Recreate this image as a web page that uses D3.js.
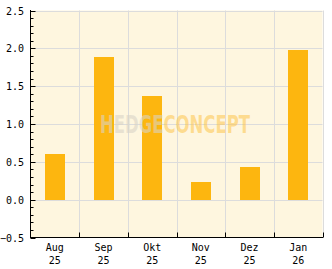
<!DOCTYPE html>
<meta charset="utf-8">
<style>
body { margin: 0; background: #fff; }
text { font-family: "DejaVu Sans Mono", monospace; font-size: 10px; fill: #000; }
.grid line { stroke: #dcdcdc; stroke-width: 1; }
</style>
<svg width="332" height="269"></svg>
<script src="https://cdn.jsdelivr.net/npm/d3@7"></script>
<script>

var months = ["Aug", "Sep", "Okt", "Nov", "Dez", "Jan"];
var years  = ["25", "25", "25", "25", "25", "26"];
var values = [0.60, 1.89, 1.37, 0.23, 0.43, 1.98];
var majorTicks = [-0.5, 0, 0.5, 1.0, 1.5, 2.0, 2.5];

var svg = d3.select("svg");

var mLeft = 30.5, mRight = 322.5, mTop = 10.5, mBottom = 237.5;

var x = d3.scaleBand()
    .domain(d3.range(months.length))
    .range([mLeft, mRight])
    .paddingInner(0.59)
    .paddingOuter(0.295);

var xb = d3.scaleLinear()
    .domain([0, months.length])
    .range([mLeft, mRight]);

var y = d3.scaleLinear()
    .domain([-0.5, 2.5])
    .range([mBottom, mTop]);

// background
svg.append("rect")
    .attr("x", mLeft).attr("y", mTop)
    .attr("width", mRight - mLeft).attr("height", mBottom - mTop)
    .attr("fill", "#fef6df");

// grid
var grid = svg.append("g").attr("class", "grid");
grid.selectAll(".h")
  .data(majorTicks.slice(1))
  .enter().append("line")
    .attr("x1", mLeft).attr("x2", mRight)
    .attr("y1", function(d) { return Math.round(y(d)) + 0.5; })
    .attr("y2", function(d) { return Math.round(y(d)) + 0.5; });
grid.selectAll(".v")
  .data(d3.range(1, months.length + 1))
  .enter().append("line")
    .attr("x1", function(d) { return Math.round(xb(d)) + 0.5; })
    .attr("x2", function(d) { return Math.round(xb(d)) + 0.5; })
    .attr("y1", mTop).attr("y2", mBottom);

// bars
var y0 = Math.round(y(0));
svg.append("g")
  .selectAll("rect")
  .data(values)
  .enter().append("rect")
    .attr("x", function(d, i) { return Math.round(x(i)); })
    .attr("width", Math.round(x.bandwidth()))
    .attr("y", function(d) { return Math.round(y(d)); })
    .attr("height", function(d) { return y0 - Math.round(y(d)); })
    .attr("fill", "#fdb60f");

// watermark
var wm = svg.append("text")
    .attr("x", 100).attr("y", 133)
    .attr("textLength", 150)
    .attr("lengthAdjust", "spacingAndGlyphs")
    .style("font-family", "'Liberation Sans Narrow', 'DejaVu Sans Condensed', sans-serif")
    .style("font-weight", "bold")
    .style("font-size", "25px");
wm.append("tspan").text("HEDGE").style("fill", "#d9d4c6").style("fill-opacity", 0.6);
wm.append("tspan").text("CONCEPT").style("fill", "#fdc54a").style("fill-opacity", 0.55);

// left axis
var yAxis = d3.axisLeft(y)
    .tickValues(d3.range(-5, 26).map(function(d) { return d / 10; }))
    .tickSize(-3)
    .tickFormat("");
var ya = svg.append("g").attr("transform", "translate(" + mLeft + ",0)").call(yAxis);
ya.select(".domain").remove();
ya.selectAll(".tick line").attr("stroke", "#000")
    .attr("x2", function(d) { return (Math.round(d * 10) % 5 === 0) ? 5 : 3; });
ya.selectAll(".tick").attr("transform", function(d) { return "translate(0," + (Math.round(y(d)) + 0.5) + ")"; });

svg.append("g").selectAll("text")
  .data(majorTicks)
  .enter().append("text")
    .attr("x", 24)
    .attr("y", function(d) { return y(d) + 4; })
    .attr("text-anchor", "end")
    .text(function(d) { return d3.format(".1f")(d); });

svg.append("line")
    .attr("x1", mLeft).attr("x2", mLeft)
    .attr("y1", mTop - 0.5).attr("y2", mBottom + 0.5)
    .attr("stroke", "#000");

// bottom axis
svg.append("line")
    .attr("x1", mLeft - 0.5).attr("x2", mRight + 0.5)
    .attr("y1", mBottom).attr("y2", mBottom)
    .attr("stroke", "#000");
svg.append("g").selectAll("line")
  .data(d3.range(1, months.length + 1))
  .enter().append("line")
    .attr("x1", function(d) { return Math.round(xb(d)) + 0.5; })
    .attr("x2", function(d) { return Math.round(xb(d)) + 0.5; })
    .attr("y1", mBottom - 5).attr("y2", mBottom)
    .attr("stroke", "#000");

var xl = svg.append("g").selectAll("text")
  .data(months)
  .enter().append("text")
    .attr("text-anchor", "middle")
    .attr("x", function(d, i) { return x(i) + x.bandwidth() / 2; })
    .attr("y", 251);
xl.append("tspan").text(function(d) { return d; });
xl.append("tspan")
    .attr("x", function(d, i) { return x(i) + x.bandwidth() / 2; })
    .attr("dy", 13)
    .text(function(d, i) { return years[i]; });

</script>
